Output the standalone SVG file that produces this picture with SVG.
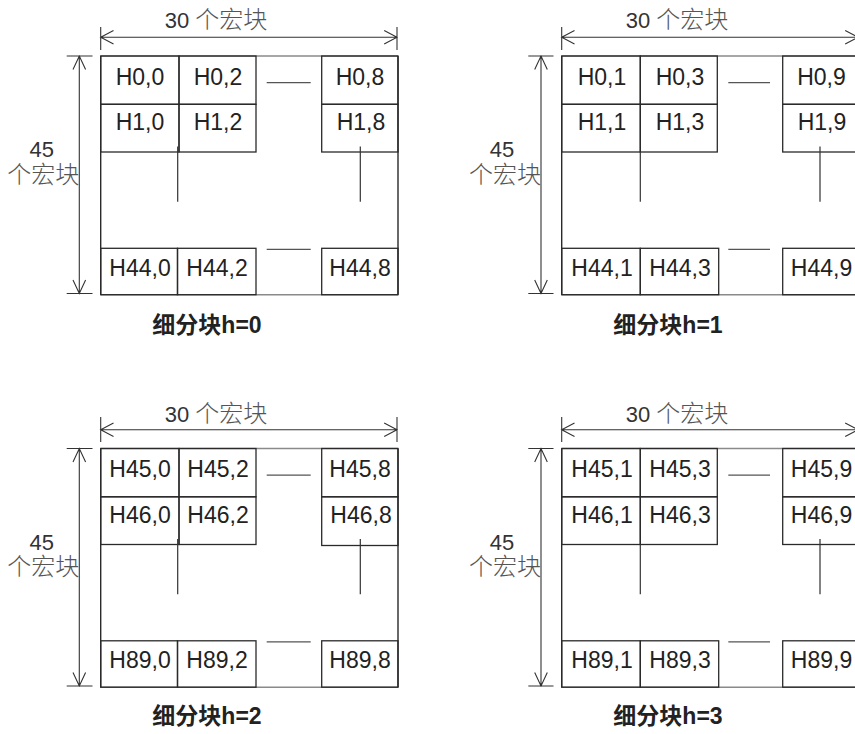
<svg xmlns="http://www.w3.org/2000/svg" width="855" height="734" viewBox="0 0 855 734">
<defs>
<style>
.cell rect{fill:none;stroke:#2a2a2a;stroke-width:1.3}
.ct{font-family:"Liberation Sans","Noto Sans CJK SC",sans-serif;font-size:23px;fill:#222;text-anchor:middle}
.fd{fill:none;stroke:#2a2a2a;stroke-width:1.4}
.fg{fill:none;stroke:#8a8a8a;stroke-width:1.4}
.dim{fill:none;stroke:#333;stroke-width:1.1}
.dsh{fill:none;stroke:#555;stroke-width:1.2}
.cont{fill:none;stroke:#333;stroke-width:1.2}
.lbl{font-family:"Liberation Sans","Noto Sans CJK SC",sans-serif;font-size:22px;fill:#333;text-anchor:middle}
.cjk{fill:#555;font-size:24px;font-weight:300}
.cap{font-family:"Liberation Sans","Noto Sans CJK SC",sans-serif;font-size:23px;font-weight:bold;fill:#222;text-anchor:middle}
</style>
</defs>
<rect width="855" height="734" fill="#ffffff"/>

<!-- Panel h=0 -->
<g id="panel-h0">
  <g id="frame-h0"><path class="fg" d="M100.7,56H398M100.7,294.7H398"/><path class="fd" d="M100.7,56V294.7M398,56V294.7"/></g>
  <g id="h0-r0c0" class="cell"><rect x="100.7" y="56" width="78.3" height="48.3"/><text class="ct" x="140" y="84.5">H0,0</text></g>
  <g id="h0-r0c1" class="cell"><rect x="179" y="56" width="77" height="48.3"/><text class="ct" x="218" y="84.5">H0,2</text></g>
  <g id="h0-r0c2" class="cell"><rect x="321.7" y="56" width="76.3" height="48.3"/><text class="ct" x="360" y="84.5">H0,8</text></g>
  <g id="h0-r1c0" class="cell"><rect x="100.7" y="104.3" width="78.3" height="47.7"/><text class="ct" x="140" y="130">H1,0</text></g>
  <g id="h0-r1c1" class="cell"><rect x="179" y="104.3" width="77" height="47.7"/><text class="ct" x="218" y="130">H1,2</text></g>
  <g id="h0-r1c2" class="cell"><rect x="321.7" y="104.3" width="76.3" height="47.7"/><text class="ct" x="361" y="130">H1,8</text></g>
  <g id="h0-r44c0" class="cell"><rect x="100.7" y="248.3" width="76.8" height="46.4"/><text class="ct" x="140" y="275.5">H44,0</text></g>
  <g id="h0-r44c1" class="cell"><rect x="177.5" y="248.3" width="78.5" height="46.4"/><text class="ct" x="217" y="275.5">H44,2</text></g>
  <g id="h0-r44c2" class="cell"><rect x="321.7" y="248.3" width="76.3" height="46.4"/><text class="ct" x="360" y="275.5">H44,8</text></g>
  <text class="lbl" x="216" y="28.3">30 <tspan class="cjk">个宏块</tspan></text>
  <text class="lbl" x="41.7" y="157">45</text>
  <text class="lbl cjk" x="43.3" y="182.5">个宏块</text>
  <text class="cap" x="207" y="333">细分块h=0</text>
</g>

<!-- Panel h=1 -->
<g id="panel-h1" transform="translate(461,0)">
  <g id="frame-h1"><path class="fg" d="M100.7,56H398M100.7,294.7H398"/><path class="fd" d="M100.7,56V294.7M398,56V294.7"/></g>
  <g id="h1-r0c0" class="cell"><rect x="100.7" y="56" width="78.6" height="48.3"/><text class="ct" x="141" y="84.5">H0,1</text></g>
  <g id="h1-r0c1" class="cell"><rect x="179.3" y="56" width="77" height="48.3"/><text class="ct" x="219" y="84.5">H0,3</text></g>
  <g id="h1-r0c2" class="cell"><rect x="321.7" y="56" width="76.3" height="48.3"/><text class="ct" x="360.5" y="84.5">H0,9</text></g>
  <g id="h1-r1c0" class="cell"><rect x="100.7" y="104.3" width="78.6" height="47.7"/><text class="ct" x="141" y="130">H1,1</text></g>
  <g id="h1-r1c1" class="cell"><rect x="179.3" y="104.3" width="77" height="47.7"/><text class="ct" x="219" y="130">H1,3</text></g>
  <g id="h1-r1c2" class="cell"><rect x="321.7" y="104.3" width="76.3" height="47.7"/><text class="ct" x="361" y="130">H1,9</text></g>
  <g id="h1-r44c0" class="cell"><rect x="100.7" y="248.3" width="78.6" height="46.4"/><text class="ct" x="141" y="275.5">H44,1</text></g>
  <g id="h1-r44c1" class="cell"><rect x="179.3" y="248.3" width="78.4" height="46.4"/><text class="ct" x="219" y="275.5">H44,3</text></g>
  <g id="h1-r44c2" class="cell"><rect x="321.7" y="248.3" width="76.3" height="46.4"/><text class="ct" x="360.5" y="275.5">H44,9</text></g>
  <text class="lbl" x="216" y="28.3">30 <tspan class="cjk">个宏块</tspan></text>
  <text class="lbl" x="41" y="157">45</text>
  <text class="lbl cjk" x="44" y="182.5">个宏块</text>
  <text class="cap" x="207" y="333">细分块h=1</text>
</g>

<!-- Panel h=2 -->
<g id="panel-h2" transform="translate(0,392.5)">
  <g id="frame-h2"><path class="fg" d="M100.7,56H398M100.7,294.7H398"/><path class="fd" d="M100.7,56V294.7M398,56V294.7"/></g>
  <g id="h2-r0c0" class="cell"><rect x="100.7" y="56" width="78.3" height="48.3"/><text class="ct" x="140" y="84.5">H45,0</text></g>
  <g id="h2-r0c1" class="cell"><rect x="179" y="56" width="77" height="48.3"/><text class="ct" x="218" y="84.5">H45,2</text></g>
  <g id="h2-r0c2" class="cell"><rect x="321.7" y="56" width="76.3" height="48.3"/><text class="ct" x="360" y="84.5">H45,8</text></g>
  <g id="h2-r1c0" class="cell"><rect x="100.7" y="104.3" width="78.3" height="47.7"/><text class="ct" x="140" y="130">H46,0</text></g>
  <g id="h2-r1c1" class="cell"><rect x="179" y="104.3" width="77" height="47.7"/><text class="ct" x="218" y="130">H46,2</text></g>
  <g id="h2-r1c2" class="cell"><rect x="321.7" y="104.3" width="76.3" height="48.7"/><text class="ct" x="361" y="130">H46,8</text></g>
  <g id="h2-r89c0" class="cell"><rect x="100.7" y="248.3" width="76.8" height="46.4"/><text class="ct" x="140" y="275.5">H89,0</text></g>
  <g id="h2-r89c1" class="cell"><rect x="177.5" y="248.3" width="78.5" height="46.4"/><text class="ct" x="217" y="275.5">H89,2</text></g>
  <g id="h2-r89c2" class="cell"><rect x="321.7" y="248.3" width="76.3" height="46.4"/><text class="ct" x="360" y="275.5">H89,8</text></g>
  <text class="lbl" x="216" y="29.5">30 <tspan class="cjk">个宏块</tspan></text>
  <text class="lbl" x="41.7" y="157">45</text>
  <text class="lbl cjk" x="43.3" y="182.5">个宏块</text>
  <text class="cap" x="207" y="331">细分块h=2</text>
</g>

<!-- Panel h=3 -->
<g id="panel-h3" transform="translate(461,392.5)">
  <g id="frame-h3"><path class="fg" d="M100.7,56H398M100.7,294.7H398"/><path class="fd" d="M100.7,56V294.7M398,56V294.7"/></g>
  <g id="h3-r0c0" class="cell"><rect x="100.7" y="56" width="78.6" height="48.3"/><text class="ct" x="141" y="84.5">H45,1</text></g>
  <g id="h3-r0c1" class="cell"><rect x="179.3" y="56" width="77" height="48.3"/><text class="ct" x="219" y="84.5">H45,3</text></g>
  <g id="h3-r0c2" class="cell"><rect x="321.7" y="56" width="76.3" height="48.3"/><text class="ct" x="360.5" y="84.5">H45,9</text></g>
  <g id="h3-r1c0" class="cell"><rect x="100.7" y="104.3" width="78.6" height="47.7"/><text class="ct" x="141" y="130">H46,1</text></g>
  <g id="h3-r1c1" class="cell"><rect x="179.3" y="104.3" width="77" height="47.7"/><text class="ct" x="219" y="130">H46,3</text></g>
  <g id="h3-r1c2" class="cell"><rect x="321.7" y="104.3" width="76.3" height="47.7"/><text class="ct" x="360.5" y="130">H46,9</text></g>
  <g id="h3-r89c0" class="cell"><rect x="100.7" y="248.3" width="78.6" height="46.4"/><text class="ct" x="141" y="275.5">H89,1</text></g>
  <g id="h3-r89c1" class="cell"><rect x="179.3" y="248.3" width="78.4" height="46.4"/><text class="ct" x="219" y="275.5">H89,3</text></g>
  <g id="h3-r89c2" class="cell"><rect x="321.7" y="248.3" width="76.3" height="46.4"/><text class="ct" x="360.5" y="275.5">H89,9</text></g>
  <text class="lbl" x="216" y="29.5">30 <tspan class="cjk">个宏块</tspan></text>
  <text class="lbl" x="41" y="157">45</text>
  <text class="lbl cjk" x="44" y="182.5">个宏块</text>
  <text class="cap" x="207" y="331">细分块h=3</text>
</g>

<!-- Connectors: dimension arrows, continuation dashes and lines -->
<g id="connectors">
  <g id="conn-h0">
    <path class="dim" d="M100.7,37.3H397M100.7,27V50M397,27V50M113.5,30.5L100.7,37.3L113.5,44M384.2,30.5L397,37.3L384.2,44"/>
    <path class="dim" d="M79.3,56V293.5M66.7,56H92.5M66.7,293.5H92.5M73,69.5L79.3,56L85.6,69.5M73,280L79.3,293.5L85.6,280"/>
    <path class="dsh" d="M266.7,82.7H310.7M266.7,249.3H310.7"/>
    <path class="cont" d="M177.7,146.5V201.7M360.3,146.5V201.7"/>
  </g>
  <g id="conn-h1" transform="translate(461,0)">
    <path class="dim" d="M100.7,37.3H397M100.7,27V50M397,27V50M113.5,30.5L100.7,37.3L113.5,44M384.2,30.5L397,37.3L384.2,44"/>
    <path class="dim" d="M80,56V293.5M67.3,56H92.5M67.3,293.5H92.5M73.7,69.5L80,56L86.3,69.5M73.7,280L80,293.5L86.3,280"/>
    <path class="dsh" d="M267.3,82.7H309M267.3,249.3H309"/>
    <path class="cont" d="M179.3,152V201.7M359,146.5V201.7"/>
  </g>
  <g id="conn-h2" transform="translate(0,392.5)">
    <path class="dim" d="M100.7,37.3H397M100.7,24.5V49.5M397,24.5V49.5M113.5,30.5L100.7,37.3L113.5,44M384.2,30.5L397,37.3L384.2,44"/>
    <path class="dim" d="M79.3,56V293.5M66.7,56H92.5M66.7,293.5H92.5M73,69.5L79.3,56L85.6,69.5M73,280L79.3,293.5L85.6,280"/>
    <path class="dsh" d="M266.7,82.7H310.7M266.7,249.3H310.7"/>
    <path class="cont" d="M177.7,146.5V201.7M360.3,146.5V201.7"/>
  </g>
  <g id="conn-h3" transform="translate(461,392.5)">
    <path class="dim" d="M100.7,37.3H397M100.7,24.5V49.5M397,24.5V49.5M113.5,30.5L100.7,37.3L113.5,44M384.2,30.5L397,37.3L384.2,44"/>
    <path class="dim" d="M80,56V293.5M67.3,56H92.5M67.3,293.5H92.5M73.7,69.5L80,56L86.3,69.5M73.7,280L80,293.5L86.3,280"/>
    <path class="dsh" d="M267.3,82.7H309M267.3,249.3H309"/>
    <path class="cont" d="M179.3,152V201.7M359,146.5V201.7"/>
  </g>
</g>
</svg>
